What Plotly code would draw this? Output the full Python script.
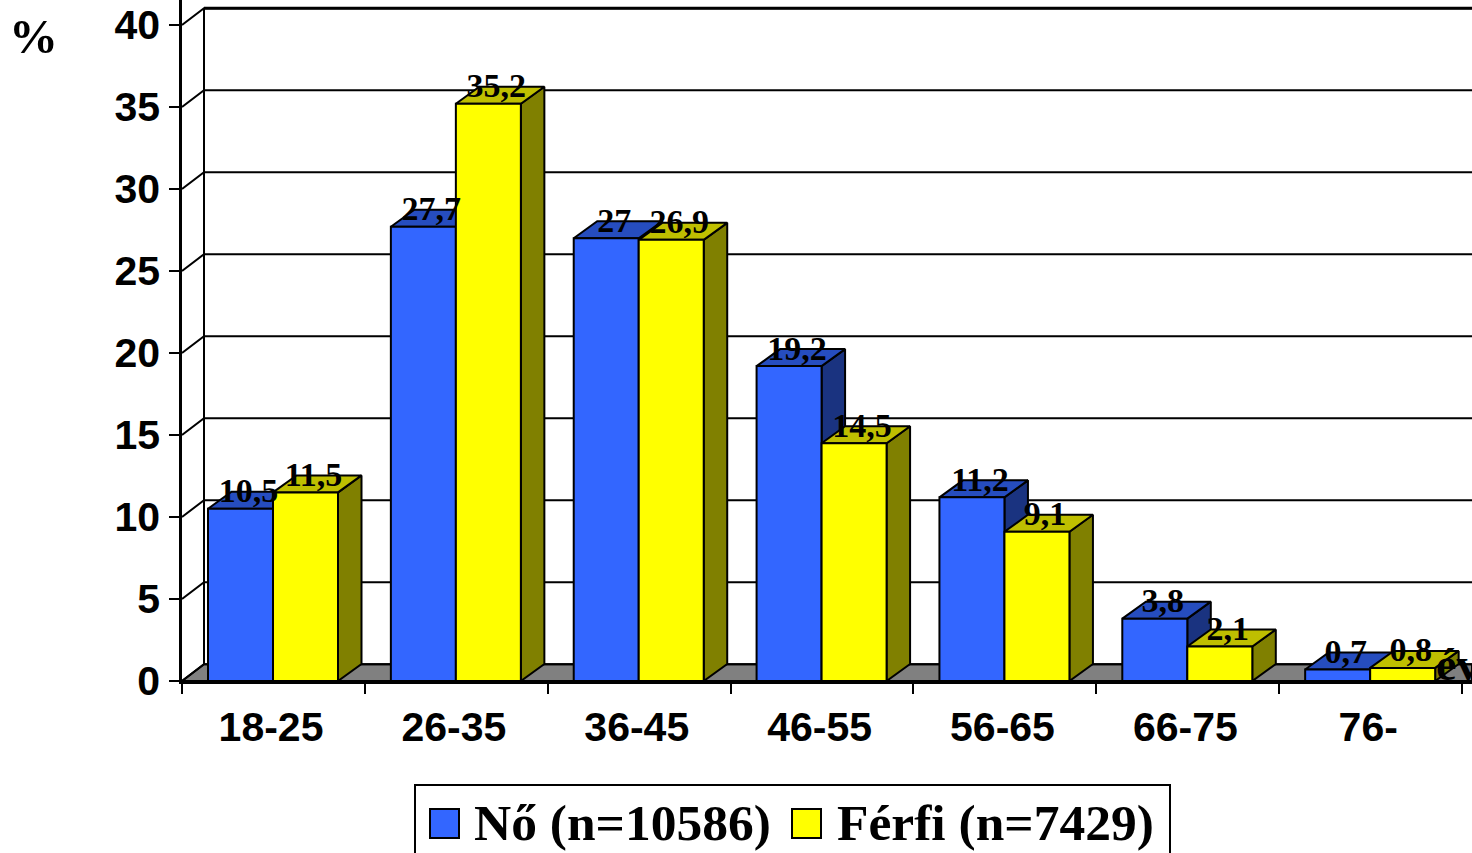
import plotly.graph_objects as go

categories = ["18-25", "26-35", "36-45", "46-55", "56-65", "66-75", "76-"]
female = [10.5, 27.7, 27, 19.2, 11.2, 3.8, 0.7]
male = [11.5, 35.2, 26.9, 14.5, 9.1, 2.1, 0.8]
female_name = "Nő (n=10586)"
male_name = "Férfi (n=7429)"
y_ticks = [0, 5, 10, 15, 20, 25, 30, 35, 40]

# layout scale
W, H = 1472, 853
X0, Y0 = 182, 681
PX_X, PX_Y = 182.86, 16.4
XMAX, YMAX = (W - X0) / PX_X, Y0 / PX_Y
WALL_DX, WALL_DY = 22 / PX_X, 16.8 / PX_Y
BAR_DX, BAR_DY = 23.5 / PX_X, 17 / PX_Y
BAR_W = 65 / PX_X
OFF_F, OFF_M = 58.5 / PX_X, 123.5 / PX_X

BLUE, BLUE_TOP, BLUE_SIDE = "#3366FF", "#264DBF", "#1A3380"
YEL, YEL_TOP, YEL_SIDE = "#FFFF00", "#BFBF00", "#808000"
SERIF = "Liberation Serif"
SANS = "Liberation Sans"

fig = go.Figure()


def poly(xs, ys, fill):
    fig.add_trace(go.Scatter(x=xs, y=ys, mode="lines", fill="toself", fillcolor=fill,
                             line=dict(color="black", width=2), hoverinfo="skip", showlegend=False))


# floor
poly([0, WALL_DX, XMAX, XMAX, 0], [0, WALL_DY, WALL_DY, 0, 0], "#808080")

# back wall grid and side wall
gx, gy = [WALL_DX, WALL_DX, None], [WALL_DY, y_ticks[-1] + WALL_DY, None]
for t in y_ticks:
    gx += [0, WALL_DX, XMAX, None]
    gy += [t, t + WALL_DY, t + WALL_DY, None]
fig.add_trace(go.Scatter(x=gx, y=gy, mode="lines", line=dict(color="black", width=2),
                         hoverinfo="skip", showlegend=False))
fig.add_trace(go.Scatter(x=[WALL_DX, XMAX], y=[y_ticks[-1] + WALL_DY] * 2, mode="lines",
                         line=dict(color="black", width=3), hoverinfo="skip", showlegend=False))


def box_faces(i, off, v, top, side):
    l, r = i + off - BAR_W / 2, i + off + BAR_W / 2
    poly([r, r + BAR_DX, r + BAR_DX, r, r], [0, BAR_DY, v + BAR_DY, v, 0], side)
    poly([l, l + BAR_DX, r + BAR_DX, r, l], [v, v + BAR_DY, v + BAR_DY, v, v], top)


for i, v in enumerate(female):
    box_faces(i, OFF_F, v, BLUE_TOP, BLUE_SIDE)
for i, v in enumerate(male):
    box_faces(i, OFF_M, v, YEL_TOP, YEL_SIDE)

# front faces on an overlay so that they sit above the depth faces
idx = list(range(len(categories)))
fig.add_trace(go.Bar(x=[i + OFF_F for i in idx], y=female, width=BAR_W, name=female_name,
                     marker=dict(color=BLUE, line=dict(color="black", width=2)),
                     xaxis="x2", yaxis="y2", showlegend=False))
fig.add_trace(go.Bar(x=[i + OFF_M for i in idx], y=male, width=BAR_W, name=male_name,
                     marker=dict(color=YEL, line=dict(color="black", width=2)),
                     xaxis="x2", yaxis="y2", showlegend=False))

LABEL_SHIFT = 8 / PX_X
LABEL_RISE = 15 / PX_Y
for off, vals in ((OFF_F, female), (OFF_M, male)):
    fig.add_trace(go.Scatter(
        x=[i + off + LABEL_SHIFT for i in idx],
        y=[v + LABEL_RISE for v in vals],
        mode="text",
        text=[str(v).replace(".", ",") for v in vals],
        textposition="middle center",
        textfont=dict(family=SERIF, size=34, color="black", weight="bold"),
        xaxis="x2", yaxis="y2", hoverinfo="skip", showlegend=False, cliponaxis=False))


def px(x):
    return (x - X0) / (W - X0)


def py(y):
    return (Y0 - y) / Y0


shapes = [
    dict(type="rect", xref="paper", yref="paper", x0=px(415), x1=px(1170), y0=py(870), y1=py(785),
         line=dict(color="black", width=2), fillcolor="white"),
    dict(type="rect", xref="paper", yref="paper", x0=px(430), x1=px(459), y0=py(838), y1=py(809),
         line=dict(color="black", width=2), fillcolor=BLUE),
    dict(type="rect", xref="paper", yref="paper", x0=px(792), x1=px(821), y0=py(838), y1=py(809),
         line=dict(color="black", width=2), fillcolor=YEL),
]
annotations = [
    dict(text=female_name, xref="paper", yref="paper", x=px(472), y=py(822), xanchor="left",
         yanchor="middle", showarrow=False, font=dict(family=SERIF, size=51.5, color="black", weight="bold")),
    dict(text=male_name, xref="paper", yref="paper", x=px(835), y=py(822), xanchor="left",
         yanchor="middle", showarrow=False, font=dict(family=SERIF, size=51.5, color="black", weight="bold")),
    dict(text="%", xref="paper", yref="paper", x=px(33), y=py(37), xanchor="center",
         yanchor="middle", showarrow=False, font=dict(family=SERIF, size=49, color="black", weight="bold")),
    dict(text="év", xref="paper", yref="paper", x=px(1434), y=py(664), xanchor="left",
         yanchor="middle", showarrow=False, font=dict(family=SERIF, size=46, color="black", weight="bold")),
]

fig.update_layout(
    width=W, height=H, paper_bgcolor="white", plot_bgcolor="white",
    margin=dict(l=X0, r=0, t=0, b=H - Y0, autoexpand=False),
    showlegend=False, barmode="overlay", shapes=shapes, annotations=annotations,
    xaxis=dict(range=[0, XMAX], tickmode="array", tickvals=[i + 0.487 for i in idx], ticktext=categories,
               ticks="", ticklabelstandoff=8, showgrid=False, zeroline=False, showline=True,
               linecolor="black", linewidth=2.5,
               tickfont=dict(family=SANS, size=41, color="black", weight="bold"),
               minor=dict(tickmode="array", tickvals=idx + [len(idx)], ticks="outside", ticklen=10,
                          tickwidth=2, tickcolor="black", showgrid=False)),
    yaxis=dict(range=[0, YMAX], tickmode="array", tickvals=y_ticks, ticks="outside", ticklen=10,
               tickwidth=2, tickcolor="black", ticklabelstandoff=1, showgrid=False, zeroline=False,
               showline=True, linecolor="black", linewidth=2.5,
               tickfont=dict(family=SANS, size=41, color="black", weight="bold")),
    xaxis2=dict(range=[0, XMAX], overlaying="x", visible=False),
    yaxis2=dict(range=[0, YMAX], overlaying="y", visible=False),
)

fig.write_html("out.html", config={"displayModeBar": False},
               post_script="document.body.style.margin='0';document.body.style.overflow='hidden';")
